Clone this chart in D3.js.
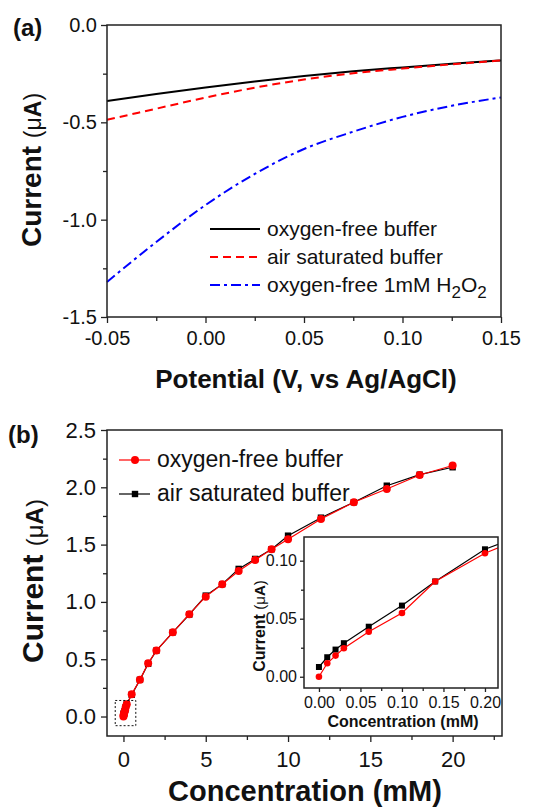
<!DOCTYPE html>
<html>
<head>
<meta charset="utf-8">
<script src="https://cdn.jsdelivr.net/npm/d3@7"></script>
<style>
  html, body { margin: 0; padding: 0; background: #fff; }
  svg { display: block; font-family: Arial, "Liberation Sans", sans-serif; }
</style>
</head>
<body>
<svg id="chart" width="544" height="809"></svg>
<script>
(function() {
  // ---- panel (a): current vs potential ----
  var potential = [-0.05, -0.025, 0, 0.025, 0.05, 0.075, 0.1, 0.125, 0.15];
  var curO2Free = [-0.39, -0.354, -0.321, -0.29, -0.262, -0.238, -0.218, -0.199, -0.182];
  var curAirSat = [-0.487, -0.43, -0.373, -0.322, -0.28, -0.248, -0.224, -0.202, -0.182];
  var curH2O2 = [-1.32, -1.115, -0.925, -0.765, -0.637, -0.548, -0.472, -0.415, -0.372];
  var aTicksX = [-0.05, 0, 0.05, 0.1, 0.15];
  var aMinorX = [-0.025, 0.025, 0.075, 0.125];
  var aTicksY = [0, -0.5, -1, -1.5];
  var aMinorY = [-0.25, -0.75, -1.25];

  // ---- panel (b): current vs concentration ----
  var concentration = [0, 0.01, 0.02, 0.03, 0.06, 0.1, 0.14, 0.2, 0.5, 1, 1.5, 2, 3, 4, 5, 6, 7, 8, 9, 10, 12, 14, 16, 18, 20];
  var respO2Free = [0, 0.0116, 0.0182, 0.0246, 0.0387, 0.0549, 0.0821, 0.1064, 0.195, 0.32, 0.465, 0.575, 0.735, 0.893,
    1.046, 1.154, 1.27, 1.366, 1.459, 1.546, 1.724, 1.869, 1.985, 2.107, 2.19];
  var respAirSat = [0.0084, 0.0168, 0.0234, 0.0289, 0.0431, 0.0613, 0.0821, 0.1098, 0.19, 0.32, 0.46, 0.575, 0.735, 0.89,
    1.055, 1.155, 1.288, 1.375, 1.46, 1.578, 1.735, 1.87, 2.014, 2.11, 2.175];
  var bTicksX = [0, 5, 10, 15, 20];
  var bMinorX = [2.5, 7.5, 12.5, 17.5, 22.5];
  var bTicksY = [0, 0.5, 1, 1.5, 2, 2.5];
  var bMinorY = [0.25, 0.75, 1.25, 1.75, 2.25];
  var insetTicksX = [0, 0.05, 0.1, 0.15, 0.2];
  var insetMinorX = [0.025, 0.075, 0.125, 0.175];
  var insetTicksY = [0, 0.05, 0.1];
  var insetMinorY = [0.025, 0.075];
  var zoomBoxX = [-0.5, 0.75];
  var zoomBoxY = [-0.08, 0.14];

  var svg = d3.select('#chart');
  var FRAME = '#222';

  var fmt = function(spec) {
    var f = d3.format(spec);
    return function(d) { return f(d).replace('\u2212', '-'); };
  };

  // draws major+minor ticks on one side, no domain line (the frame is a rect)
  var drawAxis = function(scale, side, pos, majors, minors, format, fontSize, pad, major, minor) {
    var maker = side === 'bottom' ? d3.axisBottom : d3.axisLeft;
    var tr = side === 'bottom' ? 'translate(0,' + pos + ')' : 'translate(' + pos + ',0)';
    var gMinor = svg.append('g').attr('transform', tr)
      .call(maker(scale).tickValues(minors).tickFormat('').tickSizeInner(minor).tickSizeOuter(0));
    var gMajor = svg.append('g').attr('transform', tr)
      .call(maker(scale).tickValues(majors).tickFormat(format).tickSizeInner(major).tickSizeOuter(0).tickPadding(pad));
    [gMinor, gMajor].forEach(function(g) {
      g.select('.domain').remove();
      g.selectAll('line').attr('stroke', FRAME).attr('stroke-width', 1.3);
      g.selectAll('text').attr('fill', '#111').style('font-size', fontSize + 'px')
        .style('font-family', 'Arial, "Liberation Sans", sans-serif');
    });
    return gMajor;
  };

  var frame = function(x, y) {
    var r = x.range(), s = y.range();
    return svg.append('rect')
      .attr('x', r[0]).attr('y', s[1])
      .attr('width', r[1] - r[0]).attr('height', s[0] - s[1])
      .attr('fill', 'none').attr('stroke', FRAME).attr('stroke-width', 1.5);
  };

  var yTitle = function(x, y, big, small) {
    var t = svg.append('text')
      .attr('transform', 'translate(' + x + ',' + y + ') rotate(-90)')
      .attr('text-anchor', 'middle').attr('fill', '#111');
    t.append('tspan').style('font-size', big + 'px').style('font-weight', 'bold').text('Current ');
    t.append('tspan').style('font-size', small + 'px').text('(\u03bc');
    t.append('tspan').style('font-size', small + 'px').style('font-weight', 'bold').text('A');
    t.append('tspan').style('font-size', small + 'px').text(')');
    return t;
  };

  // ================= panel (a) =================
  var ax = d3.scaleLinear().domain([-0.05, 0.15]).range([107, 501]);
  var ay = d3.scaleLinear().domain([-1.5, 0]).range([317, 25]);

  drawAxis(ax, 'bottom', 317, aTicksX, aMinorX, fmt('.2f'), 20, 8, 6, 4);
  drawAxis(ay, 'left', 107, aTicksY, aMinorY, fmt('.1f'), 20, 4, 6, 4);

  var aSeries = [
    { vals: curO2Free, color: '#000', dash: null, name: 'oxygen-free buffer' },
    { vals: curAirSat, color: '#ff0000', dash: '8,5', name: 'air saturated buffer' },
    { vals: curH2O2, color: '#0000ff', dash: '10,4,3,4', name: 'oxygen-free 1mM H' }
  ];

  var aLine = d3.line().curve(d3.curveMonotoneX)
    .x(function(d) { return ax(d[0]); })
    .y(function(d) { return ay(d[1]); });

  aSeries.forEach(function(s, i) {
    svg.append('path')
      .datum(d3.zip(potential, s.vals))
      .attr('d', aLine)
      .attr('fill', 'none')
      .attr('stroke', s.color)
      .attr('stroke-width', 2)
      .attr('stroke-dasharray', s.dash);

    var ly = 229 + i * 28;
    svg.append('line')
      .attr('x1', 210).attr('x2', 260).attr('y1', ly).attr('y2', ly)
      .attr('stroke', s.color).attr('stroke-width', 2)
      .attr('stroke-dasharray', s.dash);
    var t = svg.append('text').attr('x', 267).attr('y', ly + 7)
      .style('font-size', '21px').attr('fill', '#111').text(s.name);
    if (i === 2) {
      t.append('tspan').attr('dy', 6).style('font-size', '17px').text('2');
      t.append('tspan').attr('dy', -6).text('O');
      t.append('tspan').attr('dy', 6).style('font-size', '17px').text('2');
    }
  });

  frame(ax, ay);

  svg.append('text').attr('x', 13).attr('y', 36)
    .style('font-size', '24px').style('font-weight', 'bold').attr('fill', '#111').text('(a)');
  yTitle(41, 170, 28, 23);
  svg.append('text').attr('x', 306).attr('y', 388).attr('text-anchor', 'middle')
    .style('font-size', '26px').style('font-weight', 'bold').attr('fill', '#111')
    .text('Potential (V, vs Ag/AgCl)');

  // ================= panel (b) =================
  var bx = d3.scaleLinear().domain([-1, 23]).range([107, 502]);
  var by = d3.scaleLinear().domain([-0.17, 2.5]).range([736, 430]);

  drawAxis(bx, 'bottom', 736, bTicksX, bMinorX, fmt('d'), 22, 9, 6, 4);
  drawAxis(by, 'left', 107, bTicksY, bMinorY, fmt('.1f'), 22, 5, 6, 4);

  var bSeries = [
    { vals: respAirSat, color: '#000', shape: 'square', name: 'air saturated buffer' },
    { vals: respO2Free, color: '#ff0000', shape: 'circle', name: 'oxygen-free buffer' }
  ];

  var drawMarkers = function(g, pts, s, x, y, r) {
    if (s.shape === 'circle') {
      g.selectAll(null).data(pts).enter().append('circle')
        .attr('cx', function(d) { return x(d[0]); })
        .attr('cy', function(d) { return y(d[1]); })
        .attr('r', r).attr('fill', s.color);
    } else {
      g.selectAll(null).data(pts).enter().append('rect')
        .attr('x', function(d) { return x(d[0]) - r; })
        .attr('y', function(d) { return y(d[1]) - r; })
        .attr('width', 2 * r).attr('height', 2 * r).attr('fill', s.color);
    }
  };

  var drawSeries = function(g, x, y, rc, rs) {
    var line = d3.line().x(function(d) { return x(d[0]); }).y(function(d) { return y(d[1]); });
    bSeries.forEach(function(s) {
      var pts = d3.zip(concentration, s.vals);
      g.append('path').datum(pts).attr('d', line)
        .attr('fill', 'none').attr('stroke', s.color).attr('stroke-width', 1.2);
      drawMarkers(g, pts, s, x, y, s.shape === 'circle' ? rc : rs);
    });
  };

  drawSeries(svg.append('g'), bx, by, 4, 3.2);

  svg.append('rect')
    .attr('x', bx(zoomBoxX[0])).attr('y', by(zoomBoxY[1]))
    .attr('width', bx(zoomBoxX[1]) - bx(zoomBoxX[0]))
    .attr('height', by(zoomBoxY[0]) - by(zoomBoxY[1]))
    .attr('fill', 'none').attr('stroke', '#111').attr('stroke-width', 1)
    .attr('stroke-dasharray', '2,2');

  // legend (b)
  [bSeries[1], bSeries[0]].forEach(function(s, i) {
    var ly = 460 + i * 34;
    svg.append('line').attr('x1', 119).attr('x2', 150).attr('y1', ly).attr('y2', ly)
      .attr('stroke', s.color).attr('stroke-width', 1.2);
    drawMarkers(svg.append('g'), [[0, 0]], s,
      function() { return 135; }, function() { return ly; }, s.shape === 'circle' ? 4 : 3.2);
    svg.append('text').attr('x', 157).attr('y', ly + 7)
      .style('font-size', '23px').attr('fill', '#111').text(s.name);
  });

  frame(bx, by);

  svg.append('text').attr('x', 8).attr('y', 443)
    .style('font-size', '24px').style('font-weight', 'bold').attr('fill', '#111').text('(b)');
  yTitle(43, 581, 30, 24);
  svg.append('text').attr('x', 305).attr('y', 801).attr('text-anchor', 'middle')
    .style('font-size', '29px').style('font-weight', 'bold').attr('fill', '#111')
    .text('Concentration (mM)');

  // ---- inset ----
  var ix = d3.scaleLinear().domain([-0.018, 0.2157]).range([304, 498]);
  var iy = d3.scaleLinear().domain([-0.0097, 0.1204]).range([688, 537]);

  svg.append('rect').attr('x', 304).attr('y', 537)
    .attr('width', 194).attr('height', 151).attr('fill', '#fff');

  svg.append('clipPath').attr('id', 'insetClip').append('rect')
    .attr('x', 304).attr('y', 537).attr('width', 194).attr('height', 151);

  drawSeries(svg.append('g').attr('clip-path', 'url(#insetClip)'), ix, iy, 3.3, 3);

  drawAxis(ix, 'bottom', 688, insetTicksX, insetMinorX, fmt('.2f'), 16, 5, 4, 3);
  drawAxis(iy, 'left', 304, insetTicksY, insetMinorY, fmt('.2f'), 16, 3, 4, 3);
  frame(ix, iy);

  svg.append('text').attr('x', 403).attr('y', 727).attr('text-anchor', 'middle')
    .style('font-size', '16px').style('font-weight', 'bold').attr('fill', '#111')
    .text('Concentration (mM)');
  yTitle(265, 626, 16, 15);
}).call(this);
</script>
</body>
</html>
